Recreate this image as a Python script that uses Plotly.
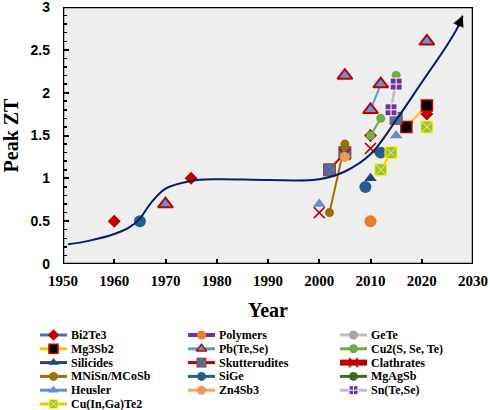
import plotly.graph_objects as go

# ---------------- data ----------------
series_names = ["Bi2Te3", "Polymers", "GeTe", "Mg3Sb2", "Pb(Te,Se)", "Cu2(S, Se, Te)",
                "Silicides", "Skutterudites", "Clathrates", "MNiSn/MCoSb", "SiGe", "MgAgSb",
                "Heusler", "Zn4Sb3", "Sn(Te,Se)", "Cu(In,Ga)Te2"]

bi2te3_year = [1960, 1975, 2010, 2021]
bi2te3_zt = [0.5, 1.0, 1.5, 1.75]
polymers_year = [2010]
polymers_zt = [0.5]
gete_year = [2014, 2015]
gete_zt = [1.8, 2.2]
mg3sb2_year = [2017, 2021]
mg3sb2_zt = [1.6, 1.85]
pbtese_year = [1970, None, 2005, None, 2010, 2012, None, 2021]
pbtese_zt = [0.7, None, 2.2, None, 1.8, 2.1, None, 2.6]
cu2_year = [2010, 2012, None, 2015]
cu2_zt = [1.5, 1.7, None, 2.2]
silicides_year = [2010]
silicides_zt = [1.0]
skutt_year = [2002, 2005, None, 2015]
skutt_zt = [1.1, 1.3, None, 1.7]
clath_year = [2000, None, 2005, None, 2010]
clath_zt = [0.6, None, 1.28, None, 1.35]
mnisn_year = [2002, 2005]
mnisn_zt = [0.6, 1.4]
sige_year = [1965, None, 2009, None, 2012]
sige_zt = [0.5, None, 0.9, None, 1.3]
mgagsb_year = []
mgagsb_zt = []
heusler_year = [2000, None, 2015]
heusler_zt = [0.7, None, 1.5]
zn4sb3_year = [2005]
zn4sb3_zt = [1.25]
sntese_year = [2014, 2015]
sntese_zt = [1.8, 2.1]
cigt_year = [2012, 2014, None, 2021]
cigt_zt = [1.1, 1.3, None, 1.6]

trend_years = [1951, 1955, 1960, 1963, 1965, 1967, 1970, 1975, 1980, 1990, 2000, 2005,
               2010, 2015, 2020, 2025, 2027, 2028]
trend_zt = [0.23, 0.27, 0.35, 0.43, 0.53, 0.70, 0.88, 0.97, 0.99, 0.98, 0.99, 1.08,
            1.28, 1.68, 2.12, 2.56, 2.76, 2.9]

x_ticks = [1950, 1960, 1970, 1980, 1990, 2000, 2010, 2020, 2030]
y_ticks = [0, 0.5, 1, 1.5, 2, 2.5, 3]
y_ticktext = ["0", "0.5", "1", "1.5", "2", "2.5", "3"]

# ---------------- styles ----------------
styles = {
    "Bi2Te3": dict(line="#4472C4", lw=2, sym="diamond", size=10, fill="#C00000", mline="#C00000", mlw=0, show_line=False),
    "Polymers": dict(line="#7030A0", lw=3, sym="circle", size=12, fill="#ED7D31", mline="#ED7D31", mlw=0, show_line=False),
    "GeTe": dict(line="#BFBFBF", lw=2, sym="circle", size=6, fill="#A5A5A5", mline="#A5A5A5", mlw=0, show_line=True),
    "Mg3Sb2": dict(line="#FFC000", lw=2, sym="square", size=11, fill="#000000", mline="#C00000", mlw=1.5, show_line=True),
    "Pb(Te,Se)": dict(line="#5B9BD5", lw=2, sym="triangle-up", size=13, fill="#5B9BD5", mline="#C00000", mlw=2, show_line=True),
    "Cu2(S, Se, Te)": dict(line="#70AD47", lw=2, sym="circle", size=9, fill="#70AD47", mline="#70AD47", mlw=0, show_line=True),
    "Silicides": dict(line="#264478", lw=2, sym="triangle-up", size=11, fill="#264478", mline="#264478", mlw=0, show_line=False),
    "Skutterudites": dict(line="#C00000", lw=2, sym="square-x", size=12, fill="#4472C4", mline="#9E480E", mlw=1, show_line=True),
    "Clathrates": dict(line="#C00000", lw=5, sym="x-thin", size=11, fill="#C00000", mline="#C00000", mlw=1.5, show_line=False),
    "MNiSn/MCoSb": dict(line="#997300", lw=2, sym="circle", size=9, fill="#997300", mline="#997300", mlw=0, show_line=True),
    "SiGe": dict(line="#255E91", lw=2, sym="circle", size=12, fill="#255E91", mline="#255E91", mlw=0, show_line=False),
    "MgAgSb": dict(line="#43682B", lw=2, sym="circle", size=9, fill="#43682B", mline="#43682B", mlw=0, show_line=False),
    "Heusler": dict(line="#698ED0", lw=2, sym="triangle-up", size=11, fill="#698ED0", mline="#698ED0", mlw=0, show_line=False),
    "Zn4Sb3": dict(line="#F4A46E", lw=2, sym="circle", size=10, fill="#F1975A", mline="#F1975A", mlw=0, show_line=False),
    "Sn(Te,Se)": dict(line="#BFBFBF", lw=2, sym="square-cross", size=12, fill="#7030A0", mline="#FFFFFF", mlw=1, show_line=True),
    "Cu(In,Ga)Te2": dict(line="#FFC000", lw=2, sym="square-x", size=12, fill="#9BBB59", mline="#FFFF00", mlw=1, show_line=True),
}

data = {
    "Bi2Te3": (bi2te3_year, bi2te3_zt),
    "Polymers": (polymers_year, polymers_zt),
    "GeTe": (gete_year, gete_zt),
    "Mg3Sb2": (mg3sb2_year, mg3sb2_zt),
    "Pb(Te,Se)": (pbtese_year, pbtese_zt),
    "Cu2(S, Se, Te)": (cu2_year, cu2_zt),
    "Silicides": (silicides_year, silicides_zt),
    "Skutterudites": (skutt_year, skutt_zt),
    "Clathrates": (clath_year, clath_zt),
    "MNiSn/MCoSb": (mnisn_year, mnisn_zt),
    "SiGe": (sige_year, sige_zt),
    "MgAgSb": (mgagsb_year, mgagsb_zt),
    "Heusler": (heusler_year, heusler_zt),
    "Zn4Sb3": (zn4sb3_year, zn4sb3_zt),
    "Sn(Te,Se)": (sntese_year, sntese_zt),
    "Cu(In,Ga)Te2": (cigt_year, cigt_zt),
}

SERIF = "Liberation Serif"
SANS = "Liberation Sans"

fig = go.Figure()

for name in series_names:
    st = styles[name]
    xs, ys = data[name]
    fig.add_trace(go.Scatter(
        x=xs, y=ys, name=name, showlegend=False,
        mode="lines+markers" if st["show_line"] else "markers",
        line=dict(color=st["line"], width=2),
        marker=dict(symbol=st["sym"], size=st["size"], color=st["fill"],
                    line=dict(color=st["mline"], width=st["mlw"])),
        xaxis="x", yaxis="y", cliponaxis=False,
    ))

# trend curve
fig.add_trace(go.Scatter(
    x=trend_years, y=trend_zt, mode="lines", showlegend=False,
    line=dict(color="#0B1F5E", width=2, shape="spline", smoothing=1.0),
    xaxis="x", yaxis="y", hoverinfo="skip",
))

annotations = [dict(
    x=trend_years[-1], y=trend_zt[-1], ax=trend_years[-2], ay=trend_zt[-2],
    xref="x", yref="y", axref="x", ayref="y", showarrow=True,
    arrowhead=2, arrowsize=1.1, arrowwidth=2, arrowcolor="#000000", text="",
)]

# ---------------- custom legend (3 columns) on an auxiliary axis in pixel units ----------------
W, H = 490, 410
ML, MR, MT, MB = 0, 17, 7, 0
PW = W - ML - MR
PH = H - MT - MB
leg_top, leg_bottom = 320, 410
col_x = [40, 188, 340]
row_y0, row_step = 335, 13.8
sw_len = 27

for i, name in enumerate(series_names):
    st = styles[name]
    r, c = divmod(i, 3)
    x0 = col_x[c]
    yy = row_y0 + r * row_step
    fig.add_trace(go.Scatter(
        x=[x0, x0 + sw_len / 2, x0 + sw_len], y=[yy, yy, yy],
        mode="lines+markers", showlegend=False, hoverinfo="skip",
        line=dict(color=st["line"], width=st["lw"] + 1),
        marker=dict(symbol=st["sym"], size=9,
                    color=st["fill"], opacity=[0, 1, 0],
                    line=dict(color=st["mline"], width=min(st["mlw"], 1.5))),
        xaxis="x2", yaxis="y2", cliponaxis=False,
    ))
    annotations.append(dict(
        x=x0 + sw_len + 2, y=yy, xref="x2", yref="y2", text=name, showarrow=False,
        xanchor="left", yanchor="middle",
        font=dict(family=SERIF, size=12, color="#000000", weight="bold"),
    ))

fig.update_layout(
    width=W, height=H,
    margin=dict(l=ML, r=MR, t=MT, b=MB, autoexpand=False),
    paper_bgcolor="#FFFFFF",
    plot_bgcolor="rgba(0,0,0,0)",
    showlegend=False,
    annotations=annotations,
    xaxis=dict(
        domain=[(63 - ML) / PW, 1], range=[1950, 2030], tickvals=x_ticks,
        ticks="inside", ticklen=5, tickwidth=2, tickcolor="#000000",
        showline=False, showgrid=False, zeroline=False, ticklabeloverflow="allow",
        tickfont=dict(family=SERIF, size=15, color="#000000", weight="bold"),
        ticklabelstandoff=6,
        title=dict(text="Year", font=dict(family=SERIF, size=20, color="#000000", weight="bold"), standoff=14),
        anchor="y",
    ),
    yaxis=dict(
        domain=[(H - MB - 264) / PH, 1], range=[0, 3], tickvals=y_ticks, ticktext=y_ticktext,
        ticks="inside", ticklen=6, tickwidth=2, tickcolor="#000000",
        minor=dict(dtick=0.1, ticks="inside", ticklen=4, tickwidth=1.5, tickcolor="#000000"),
        showline=False, showgrid=False, zeroline=False, ticklabeloverflow="allow",
        tickfont=dict(family=SANS, size=14, color="#000000", weight="bold"),
        ticklabelstandoff=12,
        title=dict(text="Peak ZT", font=dict(family=SERIF, size=20, color="#000000", weight="bold"), standoff=11),
        anchor="x",
    ),
    xaxis2=dict(domain=[0, 1], range=[ML, W - MR], visible=False, fixedrange=True, anchor="y2"),
    yaxis2=dict(domain=[0, (H - MB - leg_top) / PH], range=[leg_bottom, leg_top], visible=False,
                fixedrange=True, anchor="x2"),
    shapes=[dict(type="rect", xref="x", yref="y", x0=x_ticks[0], x1=x_ticks[-1],
                 y0=y_ticks[0], y1=y_ticks[-1],
                 fillcolor="#EEEEEE", line=dict(color="#000000", width=2.5), layer="below")],
)

fig.write_html("out.html", config={"displayModeBar": False, "staticPlot": True},
               post_script="document.body.style.margin='0';document.body.style.overflow='hidden';")
